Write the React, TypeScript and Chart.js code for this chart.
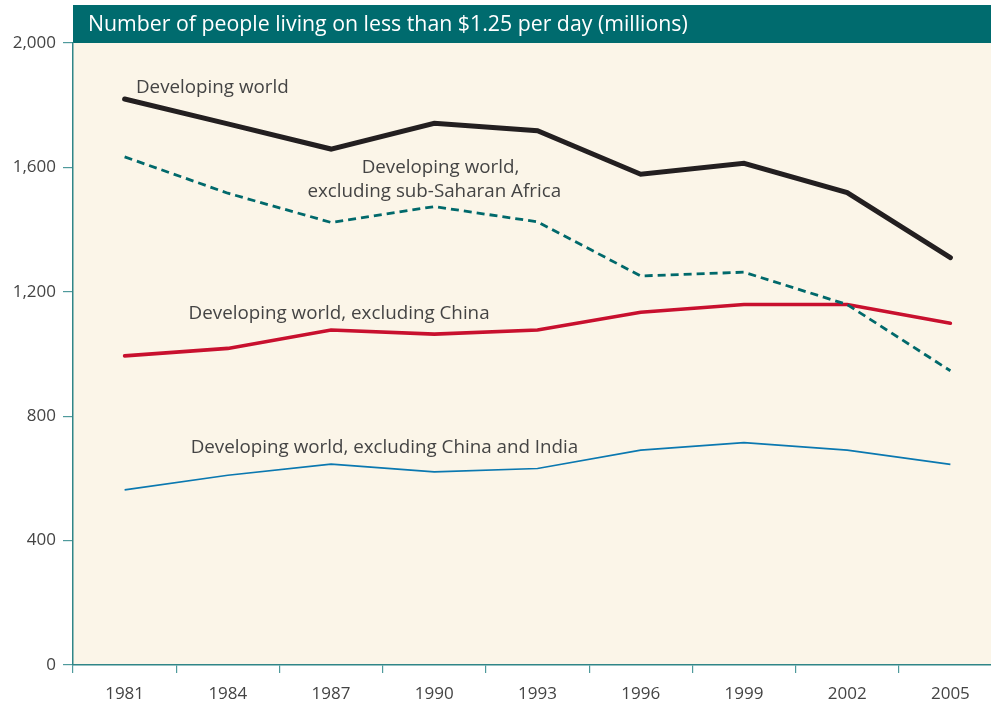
import React, { useEffect, useRef } from "react";
import { Chart, registerables } from "chart.js";

Chart.register(...registerables);

// ---------- data ----------
const years = ["1981", "1984", "1987", "1990", "1993", "1996", "1999", "2002", "2005"];
const developingWorld = [1820, 1740, 1659, 1742, 1718, 1578, 1613, 1519, 1310];
const exclSubSaharanAfrica = [1634, 1517, 1423, 1474, 1425, 1251, 1263, 1159, 946];
const exclChina = [994, 1018, 1077, 1064, 1077, 1134, 1159, 1159, 1099];
const exclChinaAndIndia = [563, 610, 646, 621, 632, 691, 715, 691, 645];
const yTickValues = [0, 400, 800, 1200, 1600, 2000];

const titleText = "Number of people living on less than $1.25 per day (millions)";

// annotation labels: text, anchor in category index units and value units
const labelTexts = [
  "Developing world",
  "Developing world,",
  "excluding sub-Saharan Africa",
  "Developing world, excluding China",
  "Developing world, excluding China and India",
];
const labelIndex = [0.11, 3.06, 3.0, 0.62, 0.64];
const labelValue = [1858, 1598, 1521, 1129, 698];
const labelAlign = ["left", "center", "center", "left", "left"];

const TEAL = "#006b6e";
const CREAM = "#fbf5e8";
const AXIS = "#2f8587";
const TEXT = "#444444";
const FONT = "'Open Sans', 'Noto Sans', sans-serif";

const decorPlugin = {
  id: "decor",
  beforeDraw(chart: any) {
    const { ctx, chartArea } = chart;
    ctx.save();
    ctx.fillStyle = CREAM;
    ctx.fillRect(chartArea.left, chartArea.top, chartArea.right - chartArea.left, chartArea.bottom - chartArea.top);
    // title bar
    ctx.fillStyle = TEAL;
    ctx.fillRect(chartArea.left, 5, chart.width - chartArea.left, chartArea.top - 5);
    ctx.fillStyle = "#ffffff";
    ctx.font = `400 21.3px ${FONT}`;
    ctx.textBaseline = "middle";
    ctx.textAlign = "left";
    ctx.fillText(titleText, chartArea.left + 15, (5 + chartArea.top) / 2 + 1);
    ctx.restore();
  },
  afterDatasetsDraw(chart: any) {
    const { ctx } = chart;
    const xs = chart.scales.x;
    const ys = chart.scales.y;
    const step = xs.getPixelForValue(1) - xs.getPixelForValue(0);
    ctx.save();
    ctx.fillStyle = TEXT;
    ctx.font = `400 18.8px ${FONT}`;
    ctx.textBaseline = "middle";
    labelTexts.forEach((t, i) => {
      const x = xs.getPixelForValue(0) + labelIndex[i] * step;
      const y = ys.getPixelForValue(labelValue[i]);
      ctx.textAlign = labelAlign[i];
      ctx.fillText(t, x, y);
    });
    ctx.restore();
  },
};

export default function App() {
  const ref = useRef<HTMLCanvasElement | null>(null);

  useEffect(() => {
    if (!ref.current) return;
    const chart = new Chart(ref.current, {
      type: "line",
      data: {
        labels: years,
        datasets: [
          {
            label: "Developing world",
            data: developingWorld,
            borderColor: "#231f20",
            borderWidth: 5,
            pointRadius: 0,
            tension: 0,
            borderCapStyle: "round",
          },
          {
            label: "Developing world, excluding sub-Saharan Africa",
            data: exclSubSaharanAfrica,
            borderColor: "#00696b",
            borderWidth: 2.8,
            borderDash: [8, 5],
            pointRadius: 0,
            tension: 0,
          },
          {
            label: "Developing world, excluding China",
            data: exclChina,
            borderColor: "#c8102e",
            borderWidth: 3.6,
            pointRadius: 0,
            tension: 0,
            borderCapStyle: "round",
          },
          {
            label: "Developing world, excluding China and India",
            data: exclChinaAndIndia,
            borderColor: "#0a78b0",
            borderWidth: 1.6,
            pointRadius: 0,
            tension: 0,
          },
        ],
      },
      options: {
        responsive: false,
        animation: false,
        devicePixelRatio: 1,
        layout: { padding: { left: 0, top: 43, right: 8, bottom: 0 } },
        plugins: {
          legend: { display: false },
          tooltip: { enabled: false },
          title: { display: false },
        },
        scales: {
          x: {
            type: "category",
            offset: true,
            afterFit(scale: any) {
              scale.height = 43;
            },
            grid: {
              offset: true,
              drawOnChartArea: false,
              drawTicks: true,
              tickLength: 8,
              color: "#4f9a9c",
              lineWidth: 1.2,
            },
            border: { display: true, color: AXIS, width: 1.5 },
            ticks: {
              color: TEXT,
              padding: 11,
              font: { family: FONT, size: 17, weight: "400" },
              maxRotation: 0,
              autoSkip: false,
            },
          },
          y: {
            min: 0,
            max: 2000,
            afterFit(scale: any) {
              scale.width = 73;
            },
            afterBuildTicks(scale: any) {
              scale.ticks = yTickValues.map((v) => ({ value: v }));
            },
            grid: {
              drawOnChartArea: false,
              drawTicks: true,
              tickLength: 10,
              color: "#4f9a9c",
              lineWidth: 1.2,
            },
            border: { display: true, color: AXIS, width: 1.5 },
            ticks: {
              color: TEXT,
              padding: 7,
              font: { family: FONT, size: 17, weight: "400" },
              callback: (v: any) => Number(v).toLocaleString("en-US"),
            },
          },
        },
      },
      plugins: [decorPlugin],
    });
    return () => chart.destroy();
  }, []);

  return (
    <div
      style={{
        position: "fixed",
        left: 0,
        top: 0,
        width: 991,
        height: 708,
        overflow: "hidden",
        background: "#ffffff",
      }}
    >
      <canvas ref={ref} width={1010} height={708} style={{ display: "block" }} />
    </div>
  );
}
